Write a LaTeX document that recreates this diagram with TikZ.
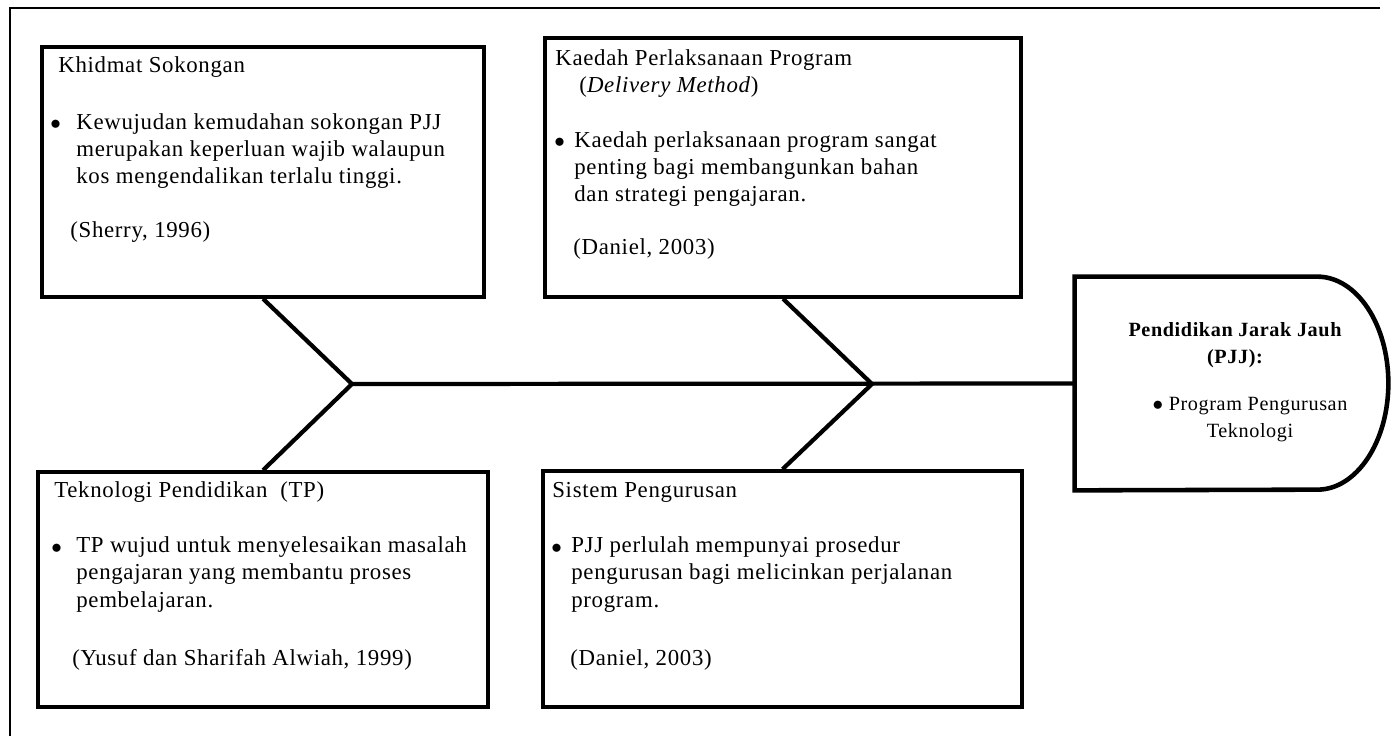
\documentclass[tikz,border=0pt]{standalone}
\usepackage{fontspec}
\setmainfont{Liberation Serif}[LetterSpace=3]
\usetikzlibrary{fit}
\tikzset{
	kotak/.style={
		rectangle,
		draw=black, line width=2pt,
		inner sep=0pt},
	tulisan/.style={
		anchor=base west,
		align=left,
		inner sep=0pt,
		font=\fontsize{13}{15.4}\selectfont},
	kepalateks/.style={
		anchor=base,
		align=center,
		inner sep=0pt,
		font=\fontsize{11.5}{15}\selectfont},
	tulang/.style={draw, line width=2.4pt},
	kepala/.style={draw, line width=2.6pt},
	bingkai/.style={draw, line width=1.4pt},
}

\begin{document}
\begin{tikzpicture}[x=0.02cm,y=-0.02cm]
	\useasboundingbox (0,0) rectangle (1395,736);
	\draw[bingkai] (1380,8) -- (10,8) -- (10,736);

	% kotak
	\node[kotak, fit={(42,47) (484,297)}] (khidmat) {};
	\node[kotak, fit={(545,38) (1021,297)}] (kaedah) {};
	\node[kotak, fit={(38,472) (488,707)}] (tp) {};
	\node[kotak, fit={(543,471) (1022,707)}] (sistem) {};
	\node[fit={(1075,277) (1317,490)}, inner sep=0pt] (pjj) {};
	\draw[kepala] (pjj.north west) -- (pjj.north east)
		arc[start angle=-90, end angle=90, x radius=71, y radius=106.5]
		-- (pjj.south west) -- cycle;

	% tulang ikan
	\coordinate (sendi1) at (352,384);
	\coordinate (sendi2) at (872,384);
	\draw[tulang] (khidmat.south) -- (sendi1) -- (tp.north);
	\draw[tulang] (kaedah.south) -- (sendi2) -- (sistem.north);
	\draw[tulang] (sendi1) -- (pjj.west);

	% teks (base = baris terakhir)
	\node[tulisan] (khidmat-judul) at (58,73) {Khidmat Sokongan};
	\node[tulisan] (khidmat-titik) at (50,130) {$\bullet$};
	\node[tulisan] (khidmat-isi) at (76,184) {Kewujudan kemudahan sokongan PJJ\\ merupakan keperluan wajib walaupun\\ kos mengendalikan terlalu tinggi.};
	\node[tulisan] (khidmat-rujuk) at (70,238) {(Sherry, 1996)};

	\node[tulisan] (kaedah-judul) at (555,93) {Kaedah Perlaksanaan Program\\ \hspace*{13.7pt}(\textit{Delivery Method})};
	\node[tulisan] (kaedah-titik) at (554,148) {$\bullet$};
	\node[tulisan] (kaedah-isi) at (574,202) {Kaedah perlaksanaan program sangat\\ penting bagi membangunkan bahan\\ dan strategi pengajaran.};
	\node[tulisan] (kaedah-rujuk) at (573,255) {(Daniel, 2003)};

	\node[tulisan] (tp-judul) at (54,497) {Teknologi Pendidikan~~(TP)};
	\node[tulisan] (tp-titik) at (51,553) {$\bullet$};
	\node[tulisan] (tp-isi) at (76,607) {TP wujud untuk menyelesaikan masalah\\ pengajaran yang membantu proses\\ pembelajaran.};
	\node[tulisan] (tp-rujuk) at (72,665) {(Yusuf dan Sharifah Alwiah, 1999)};

	\node[tulisan] (sistem-judul) at (552,497) {Sistem Pengurusan};
	\node[tulisan] (sistem-titik) at (551,553) {$\bullet$};
	\node[tulisan] (sistem-isi) at (571,607) {PJJ perlulah mempunyai prosedur\\ pengurusan bagi melicinkan perjalanan\\ program.};
	\node[tulisan] (sistem-rujuk) at (570,665) {(Daniel, 2003)};

	\node[kepalateks, font=\fontsize{11.5}{15}\selectfont\bfseries] (pjj-judul) at (1235,363) {Pendidikan Jarak Jauh\\(PJJ):};
	\node[kepalateks] (pjj-isi) at (1250,437) {$\bullet$\ Program Pengurusan\\Teknologi};
\end{tikzpicture}
\end{document}
